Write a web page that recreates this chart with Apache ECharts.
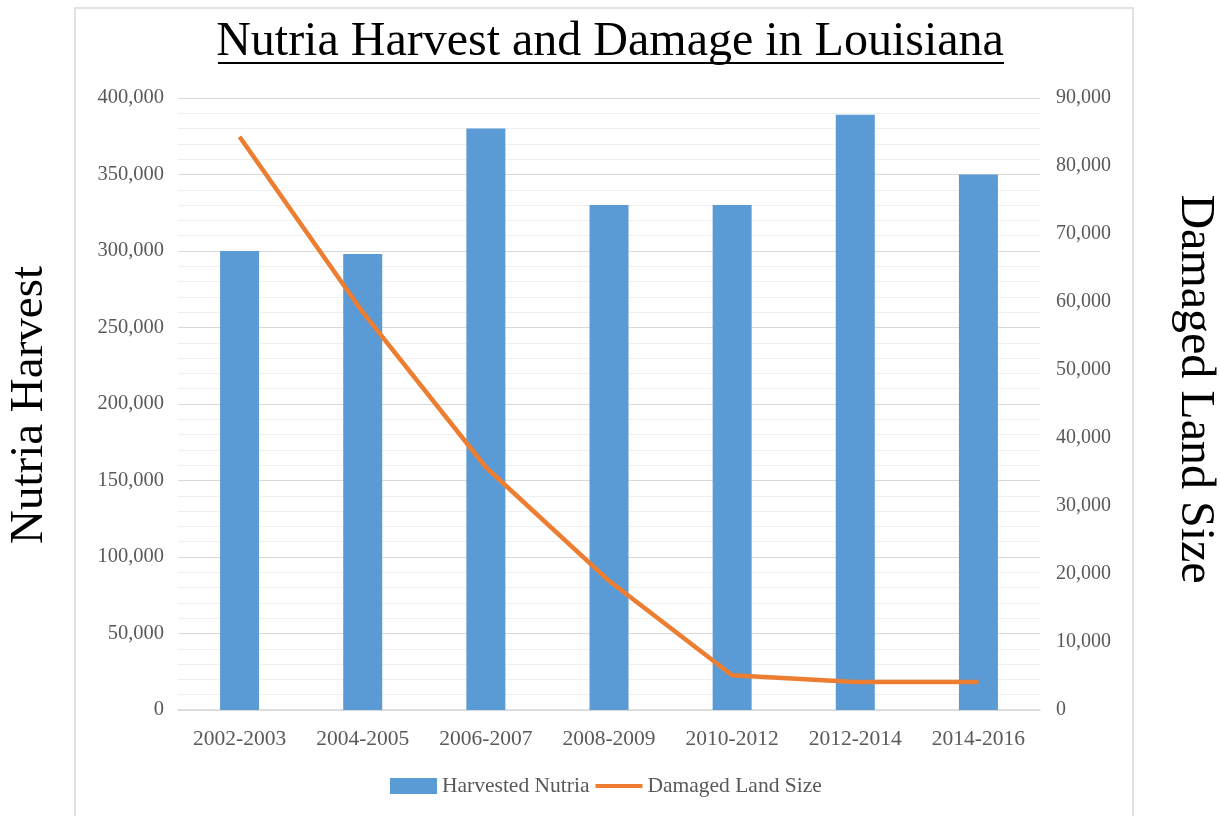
<!DOCTYPE html>
<html>
<head>
<meta charset="utf-8">
<script src="https://cdn.jsdelivr.net/npm/echarts@6/dist/echarts.min.js"></script>
<style>html,body{margin:0;padding:0;background:#fff}#c{width:1220px;height:816px}</style>
</head>
<body>
<div id="c"></div>
<script>
const categories = ['2002-2003','2004-2005','2006-2007','2008-2009','2010-2012','2012-2014','2014-2016'];
const harvestedNutria = [300000, 298000, 380000, 330000, 330000, 389000, 350000];
const damagedLandSize = [84300, 58500, 35700, 19000, 5100, 4100, 4100];
const titleText = 'Nutria Harvest and Damage in Louisiana';
const leftAxisName = 'Nutria Harvest';
const rightAxisName = 'Damaged Land Size';

const chart = echarts.init(document.getElementById('c'));
const serif = 'Liberation Serif';
const fmt = v => v.toLocaleString('en-US');
chart.setOption({
  animation: false,
  backgroundColor: '#fff',
  title: {
    text: titleText, left: 'center', top: 13,
    textStyle: {fontFamily: serif, fontSize: 48, fontWeight: 'normal', color: '#000'}
  },
  graphic: [
    {type: 'rect', shape: {x: 75, y: 8, width: 1058, height: 840}, style: {fill: 'none', stroke: '#d9d9d9', lineWidth: 1.5}, silent: true},
    {type: 'line', shape: {x1: 218, y1: 63, x2: 1004, y2: 63}, style: {stroke: '#000', lineWidth: 2}},
    {type: 'text', x: 30, y: 405, rotation: Math.PI/2, style: {text: leftAxisName, fontFamily: serif, fontSize: 47, fill: '#000', align: 'center', verticalAlign: 'middle'}},
    {type: 'text', x: 1195, y: 389, rotation: -Math.PI/2, style: {text: rightAxisName, fontFamily: serif, fontSize: 48, fill: '#000', align: 'center', verticalAlign: 'middle'}}
  ],
  legend: {
    bottom: 14, left: 385, itemWidth: 47, itemHeight: 16, itemGap: 4,
    textStyle: {fontFamily: serif, fontSize: 21.5, color: '#595959'},
    data: [
      {name: 'Harvested Nutria', icon: 'rect'},
      {name: 'Damaged Land Size', itemStyle: {color: 'rgba(0,0,0,0)', borderColor: 'rgba(0,0,0,0)', borderWidth: 0}, lineStyle: {color: '#ED7D31', width: 4}}
    ]
  },
  grid: {left: 178, right: 180, top: 98, bottom: 106, containLabel: false},
  xAxis: {
    type: 'category', data: categories,
    axisLine: {show: true, lineStyle: {color: '#d9d9d9', width: 1.5}},
    axisTick: {show: false},
    axisLabel: {fontFamily: serif, fontSize: 21.5, color: '#595959', margin: 18}
  },
  yAxis: [
    {
      type: 'value', min: 0, max: 400000, interval: 50000,
      axisLine: {show: false}, axisTick: {show: false},
      axisLabel: {fontFamily: serif, fontSize: 20.5, color: '#595959', margin: 14, formatter: fmt},
      splitLine: {lineStyle: {color: '#d9d9d9', width: 1.2}},
      minorTick: {show: false, splitNumber: 5},
      minorSplitLine: {show: true, lineStyle: {color: '#efefef', width: 1}}
    },
    {
      type: 'value', min: 0, max: 90000, interval: 10000, position: 'right',
      axisLine: {show: false}, axisTick: {show: false},
      axisLabel: {fontFamily: serif, fontSize: 20, color: '#595959', margin: 16, formatter: fmt},
      splitLine: {show: false}
    }
  ],
  series: [
    {name: 'Harvested Nutria', type: 'bar', data: harvestedNutria, barWidth: 39, itemStyle: {color: '#5B9BD5'}},
    {name: 'Damaged Land Size', type: 'line', yAxisIndex: 1, data: damagedLandSize, symbol: 'none', lineStyle: {color: '#ED7D31', width: 4.5}, itemStyle: {color: '#ED7D31'}}
  ]
});
</script>
</body>
</html>
